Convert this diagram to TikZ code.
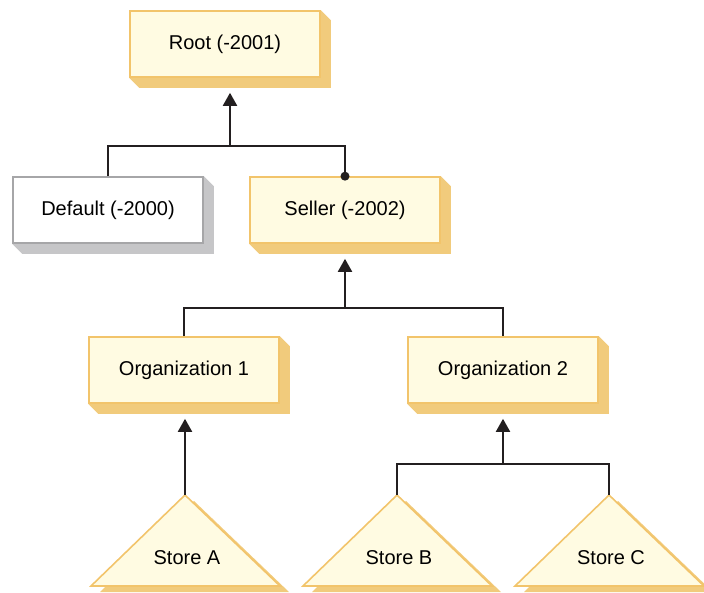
\documentclass[tikz,border=0pt]{standalone}
\usepackage{fontspec}
\setmainfont{Liberation Sans}
\usetikzlibrary{arrows.meta,backgrounds}
\definecolor{boxfill}{HTML}{FFFBE2}
\definecolor{boxline}{HTML}{F2C46B}
\definecolor{boxshade}{HTML}{F1CB7C}
\definecolor{greyline}{HTML}{A6A6A8}
\definecolor{greyshade}{HTML}{C6C6C8}
\definecolor{linecol}{HTML}{231F20}
\begin{document}
\begin{tikzpicture}[x=1pt,y=-1pt]
    % Define styles for boxes and links
    \tikzstyle{box} = [draw=boxline, fill=boxfill, line width=1.6pt, minimum width=190pt, minimum height=66pt, font=\fontsize{20}{23}\selectfont]
    \tikzstyle{greybox} = [box, draw=greyline, fill=white]
    \tikzstyle{link} = [draw=linecol, line width=2pt]
    \tikzstyle{arr} = [link, -{Triangle[width=14pt,length=13pt]}, shorten >=15pt]

    \useasboundingbox (0,0) rectangle (704,592);

    % Draw the boxes
    \node(root)[box] at (225,44) {Root (-2001)};
    \node(dflt)[greybox] at (108,210) {Default (-2000)};
    \node(seller)[box] at (345,210) {Seller (-2002)};
    \node(org1)[box] at (184,370) {Organization 1};
    \node(org2)[box] at (503,370) {Organization 2};

    \begin{pgfonlayer}{background}
      \foreach \b/\c in {root/boxshade,dflt/greyshade,seller/boxshade,org1/boxshade,org2/boxshade} {
          \fill[\c] (\b.north east) -- ++(10,10) -- ([shift={(10,10)}]\b.south east)
          -- ([shift={(10,10)}]\b.south west) -- (\b.south west) -- cycle;
        }
    \end{pgfonlayer}

    % Draw the stores
    \foreach \s/\x/\lbl in {sa/185/Store A,sb/397/Store B,sc/609/Store C} {
        \fill[boxshade] (\x+9-94,592) -- (\x+9,501) -- (\x+9+95,592) -- cycle;
        \coordinate (\s) at (\x,495);
        \filldraw[draw=boxline, fill=boxfill, line width=1.6pt] (\s) -- ++(-94,91) -- ++(189,0) -- cycle;
        \node(\s lbl)[font=\fontsize{20}{23}\selectfont] at (\x+2,558) {\lbl};
      }

    % Links
    \coordinate (j1) at (230,146);
    \draw[link] (dflt.north) |- (j1) -| (seller.north);
    \fill[linecol] (seller.north) circle (4.5pt);
    \draw[arr] (j1) -- (j1 |- root.south);

    \coordinate (j2) at (345,308);
    \draw[link] (org1.north) |- (j2) -| (org2.north);
    \draw[arr] (j2) -- (seller.south);

    \draw[arr] (sa) -- (sa |- org1.south);

    \coordinate (j3) at (503,464);
    \draw[link] (sb) |- (j3) -| (sc);
    \draw[arr] (j3) -- (org2.south);
\end{tikzpicture}
\end{document}
